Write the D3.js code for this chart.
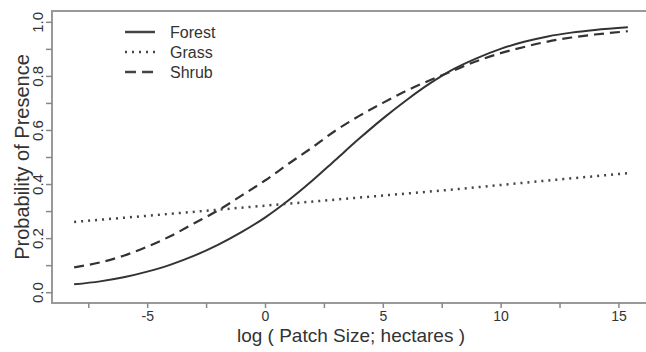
<html>
<head>
<meta charset="utf-8" />
<title>Probability of Presence</title>
<script src="https://d3js.org/d3.v7.min.js"></script>
<style>
  body { margin: 0; background: #fff; }
  text { font-family: "Liberation Sans", Arial, sans-serif; fill: #333; }
</style>
</head>
<body>
<svg class="chart"></svg>
<script type="application/javascript">
// values
var logSize = [-8.1, -7, -6, -5, -4, -3, -2, -1, 0, 1, 2, 3, 4, 5, 6, 7, 8, 9, 10, 11, 12, 13, 14, 15.4];
var forest  = [0.029, 0.04, 0.055, 0.076, 0.102, 0.135, 0.175, 0.222, 0.276, 0.34, 0.412, 0.49, 0.568, 0.642, 0.71, 0.772, 0.825, 0.866, 0.9, 0.926, 0.946, 0.96, 0.97, 0.98];
var shrub   = [0.092, 0.11, 0.135, 0.168, 0.208, 0.255, 0.302, 0.357, 0.413, 0.475, 0.535, 0.598, 0.652, 0.70, 0.745, 0.784, 0.82, 0.855, 0.884, 0.907, 0.927, 0.942, 0.953, 0.965];
var grassX  = [-8.1, -4, 0, 4, 8, 12, 15.4];
var grass   = [0.26, 0.29, 0.32, 0.35, 0.38, 0.413, 0.44];
var seriesNames = ["Forest", "Grass", "Shrub"];
var xMajor = [-5, 0, 5, 10, 15];
var xMinor = [-7.5, -2.5, 2.5, 7.5, 12.5];
var yMajor = [0, 0.2, 0.4, 0.6, 0.8, 1.0];
var yMinor = [0.1, 0.3, 0.5, 0.7, 0.9];

var W = 646, H = 352;
var mLeft = 52, mTop = 11, mRight = 650, mBottom = 303;

var svg = d3.select("svg").attr("width", W).attr("height", H);

var x = d3.scaleLinear().domain([-9.04, 16.34]).range([mLeft, mRight]);
var y = d3.scaleLinear().domain([-0.04, 1.04]).range([mBottom, mTop]);

// box
svg.append("rect")
  .attr("x", mLeft).attr("y", mTop)
  .attr("width", mRight - mLeft).attr("height", mBottom - mTop)
  .attr("fill", "none").attr("stroke", "#999").attr("stroke-width", 2);

// x axis
var gx = svg.append("g").attr("transform", "translate(0," + mBottom + ")");
gx.call(d3.axisBottom(x).tickValues(xMajor).tickSize(5).tickPadding(3).tickFormat(d => String(d)));
gx.append("g").call(d3.axisBottom(x).tickValues(xMinor).tickSize(5).tickFormat(""));
gx.selectAll(".domain").remove();
gx.selectAll("line").attr("stroke", "#888").attr("stroke-width", 1.5);
gx.selectAll("text").style("font-size", "14px").attr("fill", "#3a3a3a");

// y axis
var gy = svg.append("g").attr("transform", "translate(" + mLeft + ",0)");
gy.call(d3.axisLeft(y).tickValues(yMajor).tickSize(6).tickFormat(d => d.toFixed(1)));
gy.append("g").call(d3.axisLeft(y).tickValues(yMinor).tickSize(6).tickFormat(""));
gy.selectAll(".domain").remove();
gy.selectAll("line").attr("stroke", "#888").attr("stroke-width", 1.5);
gy.selectAll("text")
  .attr("x", null).attr("dy", null)
  .attr("text-anchor", "middle")
  .attr("transform", "translate(-9,0) rotate(-90)")
  .style("font-size", "15px").attr("fill", "#555");

// axis titles
svg.append("text")
  .attr("x", 351).attr("y", 342)
  .attr("text-anchor", "middle")
  .style("font-size", "19px")
  .text("log ( Patch Size; hectares )");
svg.append("text")
  .attr("transform", "translate(29,157) rotate(-90)")
  .attr("text-anchor", "middle")
  .style("font-size", "20px")
  .text("Probability of Presence");

// curves
var line = d3.line().x(d => x(d[0])).y(d => y(d[1])).curve(d3.curveMonotoneX);
var styles = { Forest: null, Grass: "2,5", Shrub: "10,6" };

svg.append("path").datum(d3.zip(logSize, forest))
  .attr("d", line).attr("fill", "none").attr("stroke", "#333").attr("stroke-width", 2);
svg.append("path").datum(d3.zip(grassX, grass))
  .attr("d", line).attr("fill", "none").attr("stroke", "#444").attr("stroke-width", 2.5)
  .attr("stroke-dasharray", styles.Grass);
svg.append("path").datum(d3.zip(logSize, shrub))
  .attr("d", line).attr("fill", "none").attr("stroke", "#333").attr("stroke-width", 2.2)
  .attr("stroke-dasharray", styles.Shrub);

// legend
var lg = svg.append("g").attr("transform", "translate(125,32)");
seriesNames.forEach(function(name, i) {
  var row = lg.append("g").attr("transform", "translate(0," + (i * 20) + ")");
  row.append("line").attr("x1", 0).attr("x2", 30).attr("y1", 0).attr("y2", 0)
    .attr("stroke", "#444").attr("stroke-width", 2.5)
    .attr("stroke-dasharray", name == "Shrub" ? "11,6" : styles[name]);
  row.append("text").attr("x", 45).attr("y", 6)
    .style("font-size", "16px").text(name);
});
</script>
</body>
</html>
